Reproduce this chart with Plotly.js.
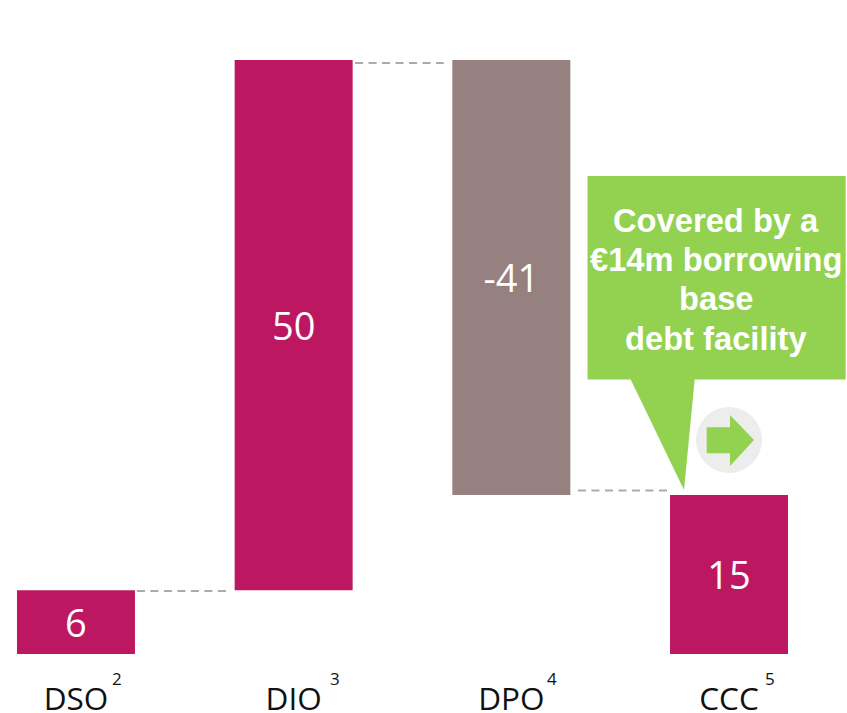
<!DOCTYPE html>
<html>
<head>
<meta charset="utf-8">
<script src="https://cdn.plot.ly/plotly-3.0.1.min.js"></script>
<style>html,body{margin:0;padding:0;background:#fff;overflow:hidden}</style>
</head>
<body>
<div id="chart" style="width:847px;height:713px"></div>
<script>
const categories = ["DSO", "DIO", "DPO", "CCC"];
const positions = [0, 1, 2, 3];
const footnotes = ["2", "3", "4", "5"];
const values = [6, 50, -41, 15];
const bases = [0, 6, 56, 0];
const labels = ["6", "50", "-41", "15"];
const barColors = ["#BE1761", "#BE1761", "#968080", "#BE1761"];
const connectorX = [[0.28, 0.689], [1.282, 1.69], [2.306, 2.715]];
const connectorY = [5.94, 55.72, 15.41];
const calloutLines = ["Covered by a", "€14m borrowing", "base", "debt facility"];

const GREEN = "#92D250";
const W = 847, H = 713;
const px = v => v / W;
const py = v => 1 - v / 654;

const traces = [{
  type: "bar",
  x: positions,
  y: values,
  base: bases,
  width: 0.542,
  marker: {color: barColors, line: {width: 0}},
  text: labels,
  textposition: "inside",
  insidetextanchor: "middle",
  constraintext: "none",
  textangle: 0,
  textfont: {family: "Open Sans", size: 38, color: "#fff"},
  hoverinfo: "skip",
  showlegend: false,
  cliponaxis: false
}];
connectorX.forEach((xs, i) => traces.push({
  type: "scatter",
  mode: "lines",
  x: xs,
  y: [connectorY[i], connectorY[i]],
  line: {color: "#ABABAB", width: 2, dash: "8px,5.5px"},
  hoverinfo: "skip",
  showlegend: false
}));

const path = pts => "M" + pts.map(p => px(p[0]) + "," + py(p[1])).join("L") + "Z";

const layout = {
  width: W,
  height: H,
  margin: {l: 0, r: 0, t: 0, b: 59, pad: 0},
  paper_bgcolor: "#fff",
  plot_bgcolor: "#fff",
  showlegend: false,
  barmode: "overlay",
  xaxis: {
    range: [-0.349, 3.542],
    tickmode: "array",
    tickvals: positions,
    ticktext: categories,
    ticklen: 0,
    ticklabelstandoff: 23,
    tickfont: {family: "Open Sans", size: 31.5, color: "#111"},
    showgrid: false,
    zeroline: false,
    showline: false,
    automargin: false,
    fixedrange: true
  },
  yaxis: {
    range: [0, 61.66],
    visible: false,
    showgrid: false,
    zeroline: false,
    fixedrange: true
  },
  shapes: [
    {type: "path", xref: "paper", yref: "paper", fillcolor: GREEN, line: {width: 0},
     path: path([[587.5, 176], [845.7, 176], [845.7, 379.5], [694.7, 379.5], [684, 490], [630.7, 379.5], [587.5, 379.5]])},
    {type: "circle", xref: "paper", yref: "paper", fillcolor: "#EDEDED", line: {width: 0},
     x0: px(696), x1: px(762), y0: py(473), y1: py(407)},
    {type: "path", xref: "paper", yref: "paper", fillcolor: GREEN, line: {width: 0},
     path: path([[706.7, 427.3], [730, 427.3], [730, 415], [754, 440], [730, 466], [730, 453.3], [706.7, 453.3]])}
  ],
  annotations: calloutLines.map((t, i) => ({
    xref: "paper", yref: "paper",
    x: px(716), y: py(220.5 + 39.2 * i),
    xanchor: "center", yanchor: "middle",
    align: "center",
    showarrow: false,
    text: t,
    font: {family: "Liberation Sans", size: 32.7, color: "#fff", weight: 700}
  })).concat(positions.map((p, i) => ({
    xref: "x", yref: "paper",
    x: p, y: py(678),
    xshift: 41,
    xanchor: "center", yanchor: "middle",
    showarrow: false,
    text: footnotes[i],
    font: {family: "Open Sans", size: 17, color: "#111"}
  })))
};

Plotly.newPlot("chart", traces, layout, {displayModeBar: false, staticPlot: true});
</script>
</body>
</html>
